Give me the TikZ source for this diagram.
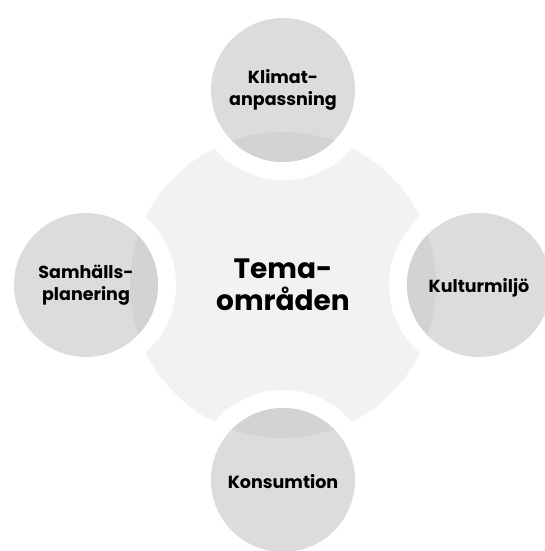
\documentclass[tikz,border=0pt]{standalone}
\usepackage{fontspec}
\setmainfont{Poppins}
\usetikzlibrary{calc}
\definecolor{midgray}{RGB}{242,242,242}
\definecolor{ballgray}{RGB}{220,220,222}
\definecolor{overgray}{RGB}{211,211,213}
\tikzset{
	ball/.style={circle, fill=ballgray, minimum size=144pt, inner sep=0pt},
	balltext/.style={align=center, font=\fontsize{17.5}{22}\selectfont\bfseries},
}

\begin{document}
\begin{tikzpicture}[x=1pt, y=1pt]
		%%%%% START %%%%%
		
		\useasboundingbox (-283, -266) rectangle (261, 285);
		
		% centre shape
		\fill[midgray] (0, 0) circle (153);
		\fill[white] (0, 195) circle (90);
		\fill[white] (196, 0) circle (90);
		\fill[white] (0, -195) circle (90);
		\fill[white] (-197, 0) circle (90);
		
		% outer circles
		\node[ball] (klimat) at (0, 195) {};
		\node[ball] (kultur) at (196, 0) {};
		\node[ball] (konsum) at (0, -195) {};
		\node[ball] (samhall) at (-197, 0) {};
		
		\foreach \p in {klimat, kultur, konsum, samhall}{
			\begin{scope}
				\clip (\p.center) circle (72);
				\fill[overgray] (0, 0) circle (153);
			\end{scope}
		}
		
		\node[align=center, font=\fontsize{28}{32}\selectfont\bfseries] (tema) at (0, 0) {Tema-\\områden};
		\node[balltext] (klimattext) at ($(klimat)+(0, 0)$) {Klimat-\\anpassning};
		\node[balltext] (kulturtext) at ($(kultur)+(0, -3)$) {Kulturmiljö};
		\node[balltext] (konsumtext) at ($(konsum)+(0, -2)$) {Konsumtion};
		\node[balltext] (samhalltext) at (samhall) {Samhälls-\\planering};
		
		%%%%% END %%%%%
	\end{tikzpicture}
\end{document}
